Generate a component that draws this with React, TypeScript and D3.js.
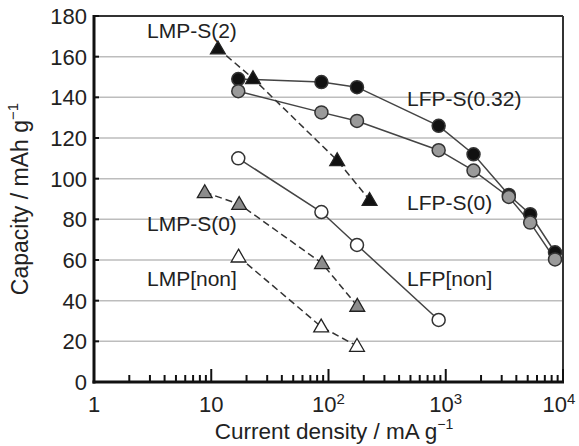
import React from "react";
import * as d3 from "d3";

const yTicks = [0, 20, 40, 60, 80, 100, 120, 140, 160, 180];
const xDecades = [1, 10, 100, 1000, 10000];
const xTickLabels = [
  { base: "1", sup: "" },
  { base: "10", sup: "" },
  { base: "10", sup: "2" },
  { base: "10", sup: "3" },
  { base: "10", sup: "4" },
];

// LFP-S(0.32): black circles
const lfpS032X = [17, 87, 175, 870, 1725, 3450, 5250, 8550];
const lfpS032Y = [149, 147.5, 145, 126, 112, 92, 82.5, 63.8];
// LFP-S(0): gray circles
const lfpS0X = [17, 87, 175, 870, 1725, 3450, 5250, 8550];
const lfpS0Y = [143, 132.6, 128.4, 114, 104, 91, 78.4, 60.3];
// LFP[non]: white circles
const lfpNonX = [17, 87, 175, 870];
const lfpNonY = [110, 83.6, 67.4, 30.5];
// LMP-S(2): black triangles
const lmpS2X = [11.4, 22.7, 118.6, 224];
const lmpS2Y = [164, 149.3, 109, 89.5];
// LMP-S(0): gray triangles
const lmpS0X = [8.8, 17.3, 88, 176];
const lmpS0Y = [93.3, 87.5, 58.4, 37.4];
// LMP[non]: white triangles
const lmpNonX = [17.1, 86.6, 175];
const lmpNonY = [61.6, 27.2, 17.7];

const series = [
  { name: "LFP-S(0.32)", xs: lfpS032X, ys: lfpS032Y, shape: "circle", fill: "#111", dashed: false },
  { name: "LFP-S(0)", xs: lfpS0X, ys: lfpS0Y, shape: "circle", fill: "#9a9a9a", dashed: false },
  { name: "LFP[non]", xs: lfpNonX, ys: lfpNonY, shape: "circle", fill: "#fff", dashed: false },
  { name: "LMP-S(2)", xs: lmpS2X, ys: lmpS2Y, shape: "tri", fill: "#111", dashed: true },
  { name: "LMP-S(0)", xs: lmpS0X, ys: lmpS0Y, shape: "tri", fill: "#8c8c8c", dashed: true },
  { name: "LMP[non]", xs: lmpNonX, ys: lmpNonY, shape: "tri", fill: "#fff", dashed: true },
];

const labels = [
  { text: "LMP-S(2)", x: 147, y: 38 },
  { text: "LFP-S(0.32)", x: 407, y: 106 },
  { text: "LFP-S(0)", x: 407, y: 210 },
  { text: "LMP-S(0)", x: 147, y: 231 },
  { text: "LMP[non]", x: 147, y: 286 },
  { text: "LFP[non]", x: 407, y: 286 },
];

const W = 579;
const H = 446;
const L = 94, R = 563, T = 16, B = 382;
const FONT = "'Liberation Sans', Arial, Helvetica, sans-serif";

export default function App() {
  const x = d3.scaleLog().domain([1, 10000]).range([L, R]);
  const y = d3.scaleLinear().domain([0, 180]).range([B, T]);

  const minor: number[] = [];
  for (let d = 1; d < 10000; d *= 10) {
    for (let k = 2; k <= 9; k++) minor.push(d * k);
  }

  const line = d3.line<[number, number]>().x((p) => x(p[0])).y((p) => y(p[1]));
  const tri = d3.symbol().type(d3.symbolTriangle).size(95);

  return (
    <svg width={W} height={H} style={{ position: "absolute", left: 0, top: 0, background: "#fff" }} fontFamily={FONT}>
      <rect x={0} y={0} width={W} height={H} fill="#fff" />
      {/* grid */}
      {yTicks.filter((t) => t > 0 && t < 180).map((t) => (
        <line key={t} x1={L} x2={R} y1={y(t)} y2={y(t)} stroke="#bdbdbd" strokeWidth={1.5} />
      ))}
      {/* frame */}
      <line x1={L} x2={R} y1={T} y2={T} stroke="#333" strokeWidth={2} />
      <line x1={R} x2={R} y1={T} y2={B} stroke="#333" strokeWidth={2} />
      {/* y ticks */}
      {yTicks.map((t) => (
        <g key={t}>
          <line x1={L} x2={L + 5} y1={y(t)} y2={y(t)} stroke="#111" strokeWidth={2} />
          <text x={87} y={y(t)} dy="0.36em" textAnchor="end" fontSize={22} fill="#222">{t}</text>
        </g>
      ))}
      {/* x ticks */}
      {minor.map((v) => (
        <line key={v} x1={x(v)} x2={x(v)} y1={B} y2={B - 7} stroke="#111" strokeWidth={2} />
      ))}
      {xDecades.map((v, i) => (
        <g key={v}>
          <line x1={x(v)} x2={x(v)} y1={B} y2={B - 13} stroke="#111" strokeWidth={2} />
          <text x={i === 4 ? x(v) - 4 : x(v)} y={412} textAnchor="middle" fontSize={22} fill="#222">
            {xTickLabels[i].base}
            {xTickLabels[i].sup && (
              <tspan fontSize={15} dy={-8}>{xTickLabels[i].sup}</tspan>
            )}
          </text>
        </g>
      ))}
      {/* axes */}
      <line x1={L} x2={L} y1={T - 1} y2={B + 1.5} stroke="#111" strokeWidth={3} />
      <line x1={L - 1.5} x2={R + 1} y1={B} y2={B} stroke="#111" strokeWidth={3} />
      {/* series lines */}
      {series.map((s) => (
        <path
          key={s.name + "l"}
          d={line(s.xs.map((v, i) => [v, s.ys[i]] as [number, number])) || ""}
          fill="none"
          stroke={s.dashed ? "#333" : "#444"}
          strokeWidth={1.5}
          strokeDasharray={s.dashed ? "7,4" : undefined}
        />
      ))}
      {/* markers */}
      {series.map((s) => (
        <g key={s.name + "m"}>
          {s.xs.map((v, i) =>
            s.shape === "circle" ? (
              <circle key={i} cx={x(v)} cy={y(s.ys[i])} r={6.5} fill={s.fill} stroke="#333" strokeWidth={1.5} />
            ) : (
              <path key={i} d={tri() || ""} transform={`translate(${x(v)},${y(s.ys[i]) + 1})`} fill={s.fill} stroke="#222" strokeWidth={1.3} />
            )
          )}
        </g>
      ))}
      {/* labels */}
      {labels.map((lb) => (
        <text key={lb.text} x={lb.x} y={lb.y} fontSize={21} fill="#222">{lb.text}</text>
      ))}
      {/* axis titles */}
      <text x={334} y={439} textAnchor="middle" fontSize={22.5} fill="#222">
        Current density / mA g
        <tspan fontSize={14} dy={-10}>−1</tspan>
      </text>
      <text transform={`translate(28,${(T + B) / 2}) rotate(-90)`} textAnchor="middle" fontSize={23} fill="#222">
        Capacity / mAh g
        <tspan fontSize={15} dy={-10}>−1</tspan>
      </text>
    </svg>
  );
}
